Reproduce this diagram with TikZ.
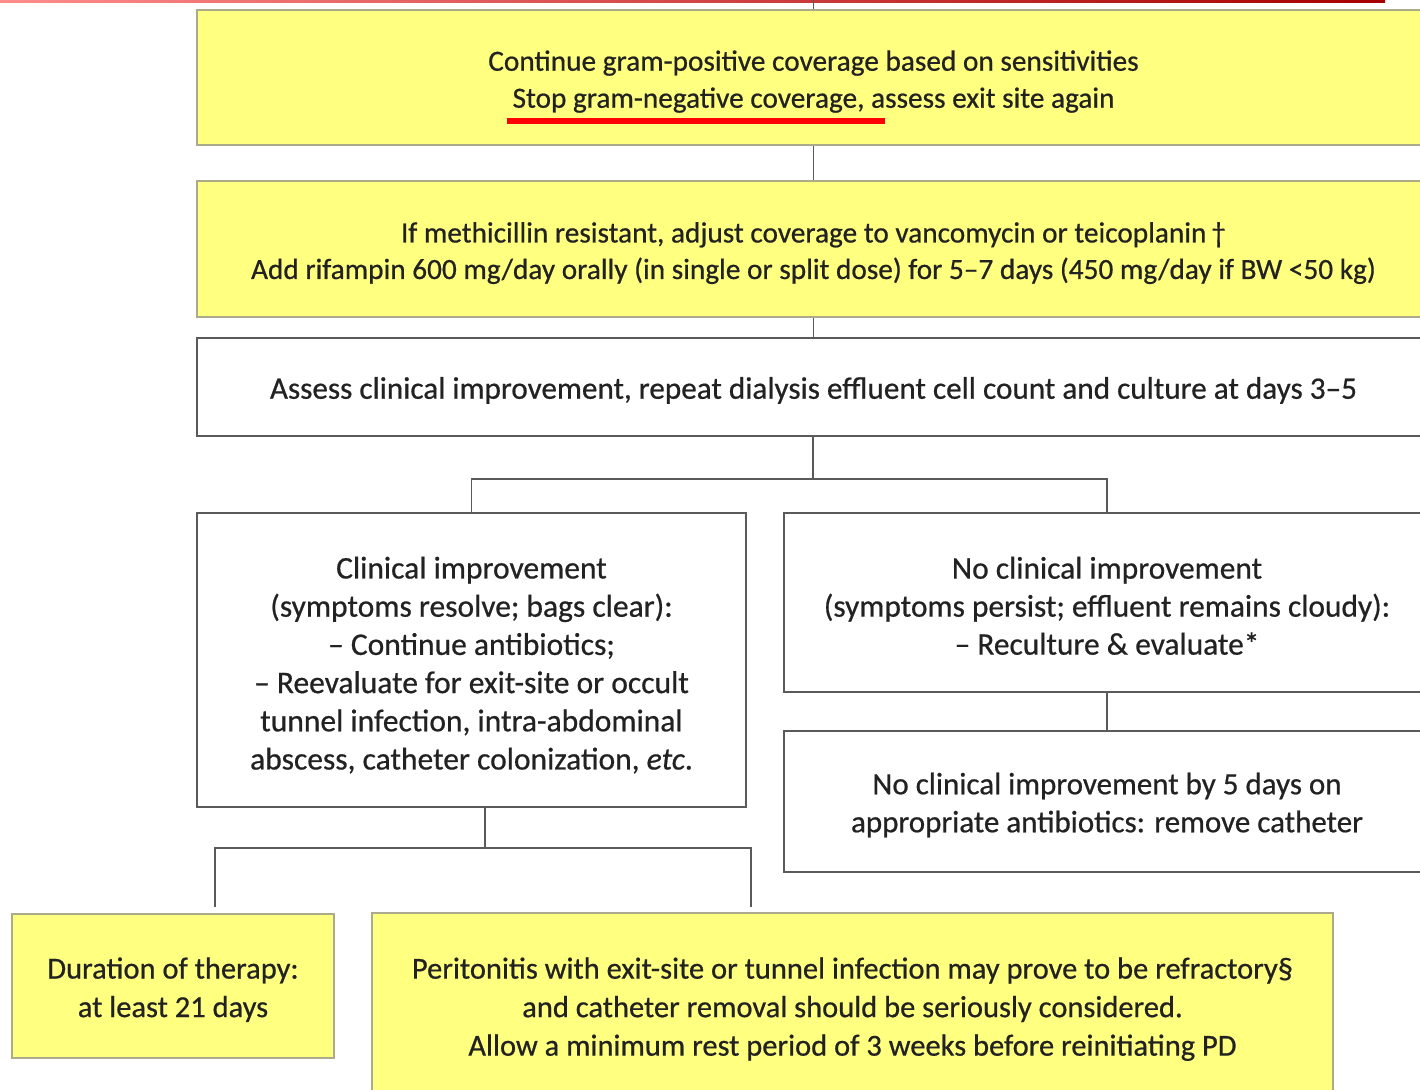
\documentclass[tikz,border=0pt]{standalone}
\usepackage{fontspec}
\setmainfont{Carlito}[FakeBold=0.6]
\definecolor{boxyellow}{HTML}{FFFF80}
\definecolor{yellowedge}{HTML}{ABAB8C}
\definecolor{boxedge}{HTML}{5A5A5A}
\definecolor{inktext}{HTML}{222222}
% pushes the first line down a little
\newcommand{\lowerby}{\rule{0pt}{28.5pt}}

\begin{document}
\begin{tikzpicture}[x=1pt, y=-1pt,
    every node/.style={align=center, text=inktext, font=\fontsize{31}{38}\selectfont, inner sep=0pt},
    ybox/.style={draw=yellowedge, fill=boxyellow, line width=1.8pt},
    wbox/.style={draw=boxedge, fill=white, line width=1.3pt},
    link/.style={draw=boxedge, line width=1.6pt}]
    \path[use as bounding box] (0,0) rectangle (1420,1089);
    \clip (0,0) rectangle (1420,1089);

    % red bar along the top
    \shade[left color=red!45, right color=red!65!black] (0,0) rectangle (1385,3);

    % upper boxes, running off the right edge
    \node[ybox, font=\fontsize{29.3}{37}\selectfont, minimum width=1233, minimum height=135] (cont) at (813.5,77.5)
        {\lowerby Continue gram-positive coverage based on sensitivities\\
         Stop gram-negative coverage, assess exit site again};
    \node[ybox, font=\fontsize{29.3}{36.5}\selectfont, minimum width=1233, minimum height=136] (mrsa) at (813.5,249)
        {\lowerby If methicillin resistant, adjust coverage to vancomycin or teicoplanin\,†\\
         Add rifampin 600 mg/day orally (in single or split dose) for 5–7 days (450 mg/day if BW <50 kg)};
    \node[wbox, font=\fontsize{31.2}{38}\selectfont, minimum width=1233, minimum height=98] (assess) at (813.5,387)
        {\lowerby Assess clinical improvement, repeat dialysis effluent cell count and culture at days 3–5};

    % the two outcomes
    \node[wbox, font=\fontsize{31.5}{38.2}\selectfont, minimum width=549, minimum height=294] (better) at (471.5,660)
        {\rule{0pt}{32pt}Clinical improvement\\
         (symptoms resolve; bags clear):\\
         – Continue antibiotics;\\
         – Reevaluate for exit-site or occult\\
         tunnel infection, intra-abdominal\\
         abscess, catheter colonization, \textit{etc}.};
    \node[wbox, font=\fontsize{31.4}{38}\selectfont, minimum width=646, minimum height=179] (worse) at (1107,602.5)
        {\lowerby No clinical improvement\\
         (symptoms persist; effluent remains cloudy):\\
         – Reculture \& evaluate*};
    \node[wbox, font=\fontsize{31}{38}\selectfont, minimum width=646, minimum height=141] (remove) at (1107,801.5)
        {\lowerby No clinical improvement by 5 days on\\
         appropriate antibiotics: remove catheter};

    % bottom row
    \node[ybox, font=\fontsize{30.5}{38.5}\selectfont, minimum width=322, minimum height=144] (duration) at (173,986)
        {\lowerby Duration of therapy:\\ at least 21 days};
    \node[ybox, font=\fontsize{30.5}{38.5}\selectfont, minimum width=961, minimum height=185] (refract) at (852.5,1005.5)
        {\lowerby Peritonitis with exit-site or tunnel infection may prove to be refractory§\\
         and catheter removal should be seriously considered.\\
         Allow a minimum rest period of 3 weeks before reinitiating PD};

    % underline on the second line
    \draw[red, line width=6pt] (507,121) -- (885,121);

    % connectors
    \coordinate (intop) at (813.5,0);
    \coordinate (fork) at (813,479);
    \coordinate (fork2) at (485,848);
    \coordinate (endl) at (215,907);
    \coordinate (endr) at (751,907);
    \draw[link] (intop) -- (cont.north);
    \draw[link] (cont.south) -- (mrsa.north);
    \draw[link] (mrsa.south) -- (assess.north);
    \draw[link] (assess.south -| fork) -- (fork);
    \draw[link] (better.north) |- (fork) -| (worse.north);
    \draw[link] (worse.south) -- (remove.north);
    \draw[link] (better.south -| fork2) -- (fork2);
    \draw[link] (endl) |- (fork2) -| (endr);
\end{tikzpicture}
\end{document}
